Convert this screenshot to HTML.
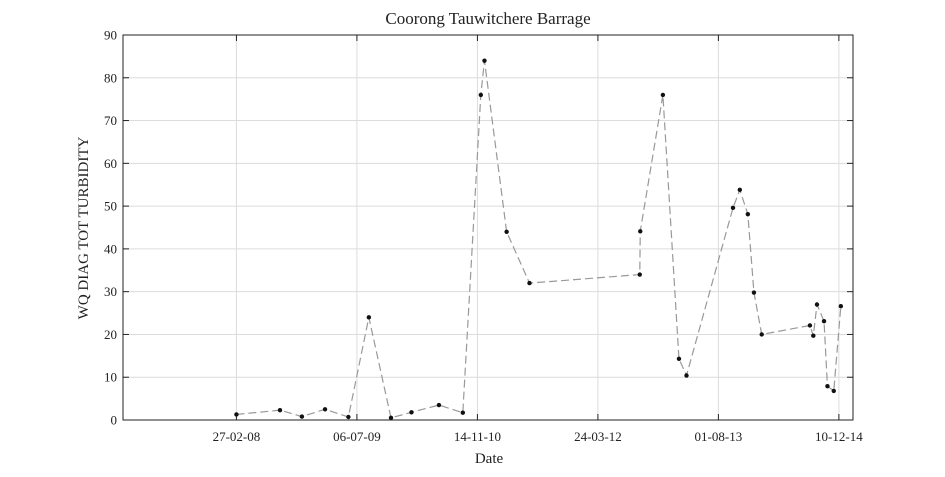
<!DOCTYPE html>
<html><head><meta charset="utf-8"><style>
body{margin:0;background:#fff}
svg text{font-family:"Liberation Serif",serif;fill:#222}
</style></head><body>
<svg id="c" width="945" height="472"></svg>
<script>
const dayOffsets=[0,179,269,364,460,544,635,719,832,930,1004,1019,1110,1204,1657,1659,1752,1818,1849,2040,2068,2101,2126,2158,2356,2370,2385,2414,2428,2454,2483];
const turbidity=[1.3,2.3,0.8,2.5,0.7,24,0.5,1.8,3.5,1.7,76,84,44,32,34,44.1,76,14.3,10.4,49.6,53.8,48.1,29.8,20,22.1,19.7,27,23.1,7.9,6.8,26.6];
const xTickDays=[0,495,990,1485,1980,2475];
const xTickLabels=["27-02-08","06-07-09","14-11-10","24-03-12","01-08-13","10-12-14"];
const yTicks=[0,10,20,30,40,50,60,70,80,90];
const L=123,R=853,T=35,B=420,X0=-466,X1=2533,Y0=0,Y1=90;
const sx=d=>L+(d-X0)/(X1-X0)*(R-L);
const sy=v=>B-(v-Y0)/(Y1-Y0)*(B-T);
const svg=document.getElementById('c');const NS='http://www.w3.org/2000/svg';
function mk(t,a,p){const e=document.createElementNS(NS,t);for(const k in a)e.setAttribute(k,a[k]);(p||svg).appendChild(e);return e;}
const grid=mk('g',{});


xTickDays.forEach((d,i)=>{const x=sx(d);
mk('line',{x1:x,x2:x,y1:T,y2:B,stroke:'#dcdcdc','stroke-width':1},grid);
mk('line',{x1:x,x2:x,y1:B,y2:B-6,stroke:'#222'});
mk('line',{x1:x,x2:x,y1:T,y2:T+6,stroke:'#222'});
const t=mk('text',{x:x,y:B+21,'text-anchor':'middle','font-size':13});t.textContent=xTickLabels[i];

});
yTicks.forEach(v=>{const y=sy(v);
mk('line',{x1:L,x2:R,y1:y,y2:y,stroke:'#dcdcdc','stroke-width':1},grid);
mk('line',{x1:L,x2:L+6,y1:y,y2:y,stroke:'#222'});
mk('line',{x1:R,x2:R-6,y1:y,y2:y,stroke:'#222'});
const t=mk('text',{x:L-6,y:y+4.5,'text-anchor':'end','font-size':13});t.textContent=v;

});
const box=mk('rect',{x:L,y:T,width:R-L,height:B-T,fill:'none',stroke:'#222','stroke-width':1});


const pts=dayOffsets.map((d,i)=>sx(d)+','+sy(turbidity[i])).join(' ');
const line=mk('polyline',{points:pts,fill:'none',stroke:'#999','stroke-width':1.2,'stroke-dasharray':'8,4'});


dayOffsets.forEach((d,i)=>{const c=mk('circle',{cx:sx(d),cy:sy(turbidity[i]),r:2.2,fill:'#111'});

});
const ti=mk('text',{x:488,y:24,'text-anchor':'middle','font-size':17});ti.textContent='Coorong Tauwitchere Barrage';


const xl=mk('text',{x:489,y:463,'text-anchor':'middle','font-size':15});xl.textContent='Date';


const yl=mk('text',{x:0,y:0,'text-anchor':'middle','font-size':15,transform:'translate(88,228) rotate(-90)'});yl.textContent='WQ DIAG TOT TURBIDITY';


</script>
</body></html>
